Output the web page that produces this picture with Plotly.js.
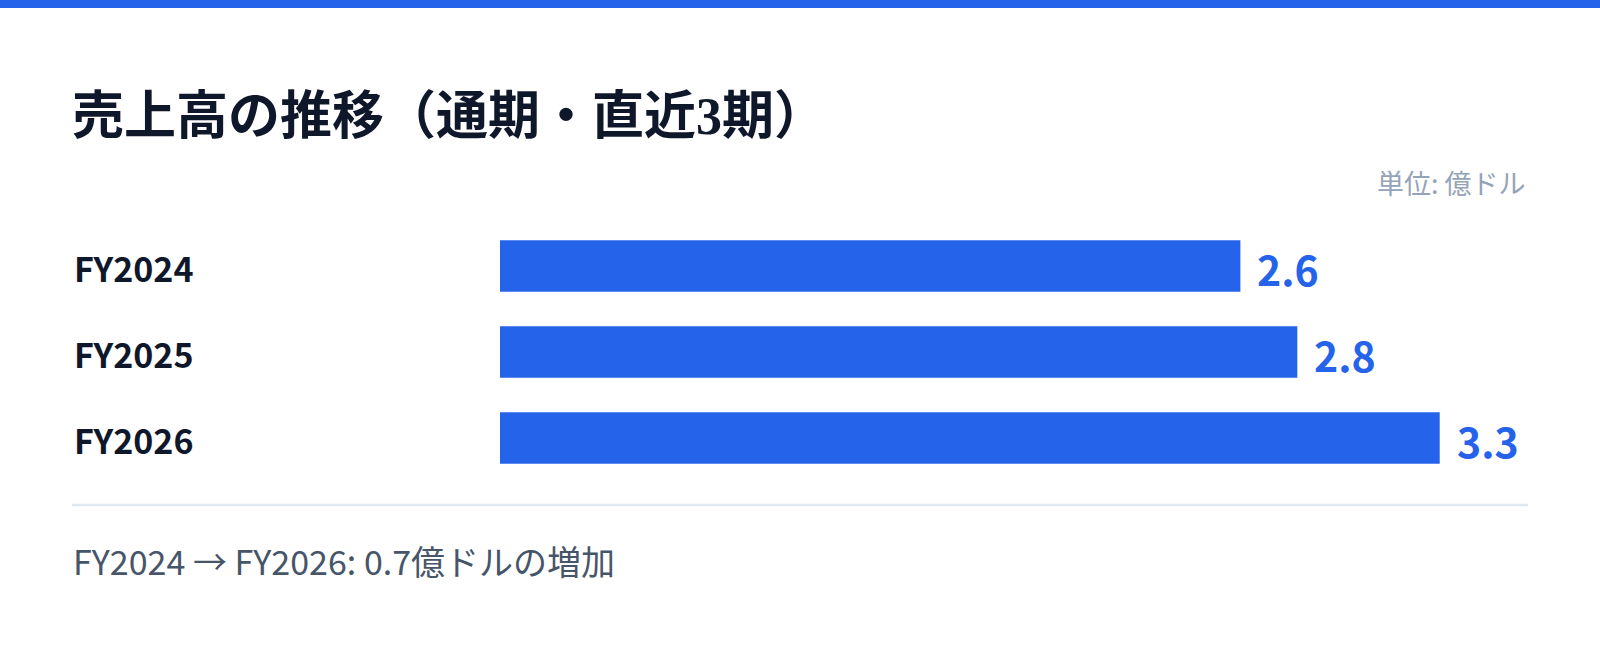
<!DOCTYPE html>
<html>
<head>
<meta charset="utf-8">
<script src="https://cdn.plot.ly/plotly-3.0.1.min.js"></script>
<style>
  html, body { margin: 0; padding: 0; background: #ffffff; }
  #chart { width: 1600px; height: 647px; }
</style>
</head>
<body>
<div id="chart"></div>
<script>
// ---- data ----
const periods = ['FY2024', 'FY2025', 'FY2026'];
const sales = [2.6, 2.8, 3.3];          // 億ドル
const valueLabels = ['2.6', '2.8', '3.3'];
const titleText = '売上高の推移（通期・直近3期）';
const unitText = '単位: 億ドル';
const footerText = 'FY2024 → FY2026: 0.7億ドルの増加';

// ---- layout geometry (pixels) ----
const W = 1600, H = 647;
const ML = 500, MR = 72, MT = 223, MB = 166;
const PW = W - ML - MR, PH = H - MT - MB;
const px2x = px => (px - ML) / PW;          // pixel -> paper x
const py2y = py => (MT + PH - py) / PH;     // pixel -> paper y

const BLUE = '#2563eb';
const INK = '#0f172a';
const SANS = 'Noto Sans CJK JP, Noto Sans, sans-serif';

const trace = {
    type: 'bar',
    orientation: 'h',
    y: periods,
    x: sales,
    width: 0.6,
    marker: { color: BLUE },
    hoverinfo: 'skip'
};

const annotations = [];

// category labels, left aligned at the content edge
periods.forEach(p => {
    annotations.push({
        xref: 'paper', yref: 'y',
        x: px2x(72), y: p,
        xanchor: 'left', yanchor: 'middle',
        yshift: -1,
        text: p, showarrow: false,
        font: { family: SANS, size: 34, color: INK, weight: 700 }
    });
});

// value labels after each bar
periods.forEach((p, i) => {
    annotations.push({
        xref: 'x', yref: 'y',
        x: sales[i], y: p,
        xanchor: 'left', yanchor: 'middle',
        xshift: 15, yshift: -2,
        text: valueLabels[i], showarrow: false,
        font: { family: SANS, size: 41, color: BLUE, weight: 700 }
    });
});

// unit label
annotations.push({
    xref: 'paper', yref: 'paper',
    x: 1, y: py2y(182),
    xanchor: 'right', yanchor: 'middle',
    text: unitText, showarrow: false,
    font: { family: SANS, size: 27, color: '#94a3b8' }
});

// footer note
annotations.push({
    xref: 'paper', yref: 'paper',
    x: px2x(71), y: py2y(560),
    xanchor: 'left', yanchor: 'middle',
    text: footerText, showarrow: false,
    font: { family: SANS, size: 34, color: '#475569' }
});

const layout = {
    width: W, height: H,
    margin: { l: ML, r: MR, t: MT, b: MB },
    paper_bgcolor: '#ffffff',
    plot_bgcolor: '#ffffff',
    showlegend: false,
    title: {
        text: '<b>' + titleText + '</b>',
        xref: 'container', yref: 'container',
        x: 72 / W, y: 1 - 116 / H,
        xanchor: 'left', yanchor: 'middle',
        font: { family: 'Liberation Serif, Noto Sans CJK JP, serif', size: 52, color: INK }
    },
    xaxis: {
        range: [0, 3.61],
        visible: false,
        fixedrange: true
    },
    yaxis: {
        type: 'category',
        autorange: 'reversed',
        visible: false,
        fixedrange: true
    },
    shapes: [
        // top accent strip
        {
            type: 'rect', xref: 'paper', yref: 'paper',
            x0: px2x(0), x1: px2x(W), y0: py2y(8), y1: py2y(0),
            fillcolor: BLUE, line: { width: 0 }, layer: 'above'
        },
        // separator rule
        {
            type: 'line', xref: 'paper', yref: 'paper',
            x0: px2x(72), x1: px2x(1528), y0: py2y(505), y1: py2y(505),
            line: { color: '#e2e8f0', width: 2.5 }
        }
    ],
    annotations: annotations
};

Plotly.newPlot('chart', [trace], layout, { displayModeBar: false, staticPlot: true });
</script>
</body>
</html>
